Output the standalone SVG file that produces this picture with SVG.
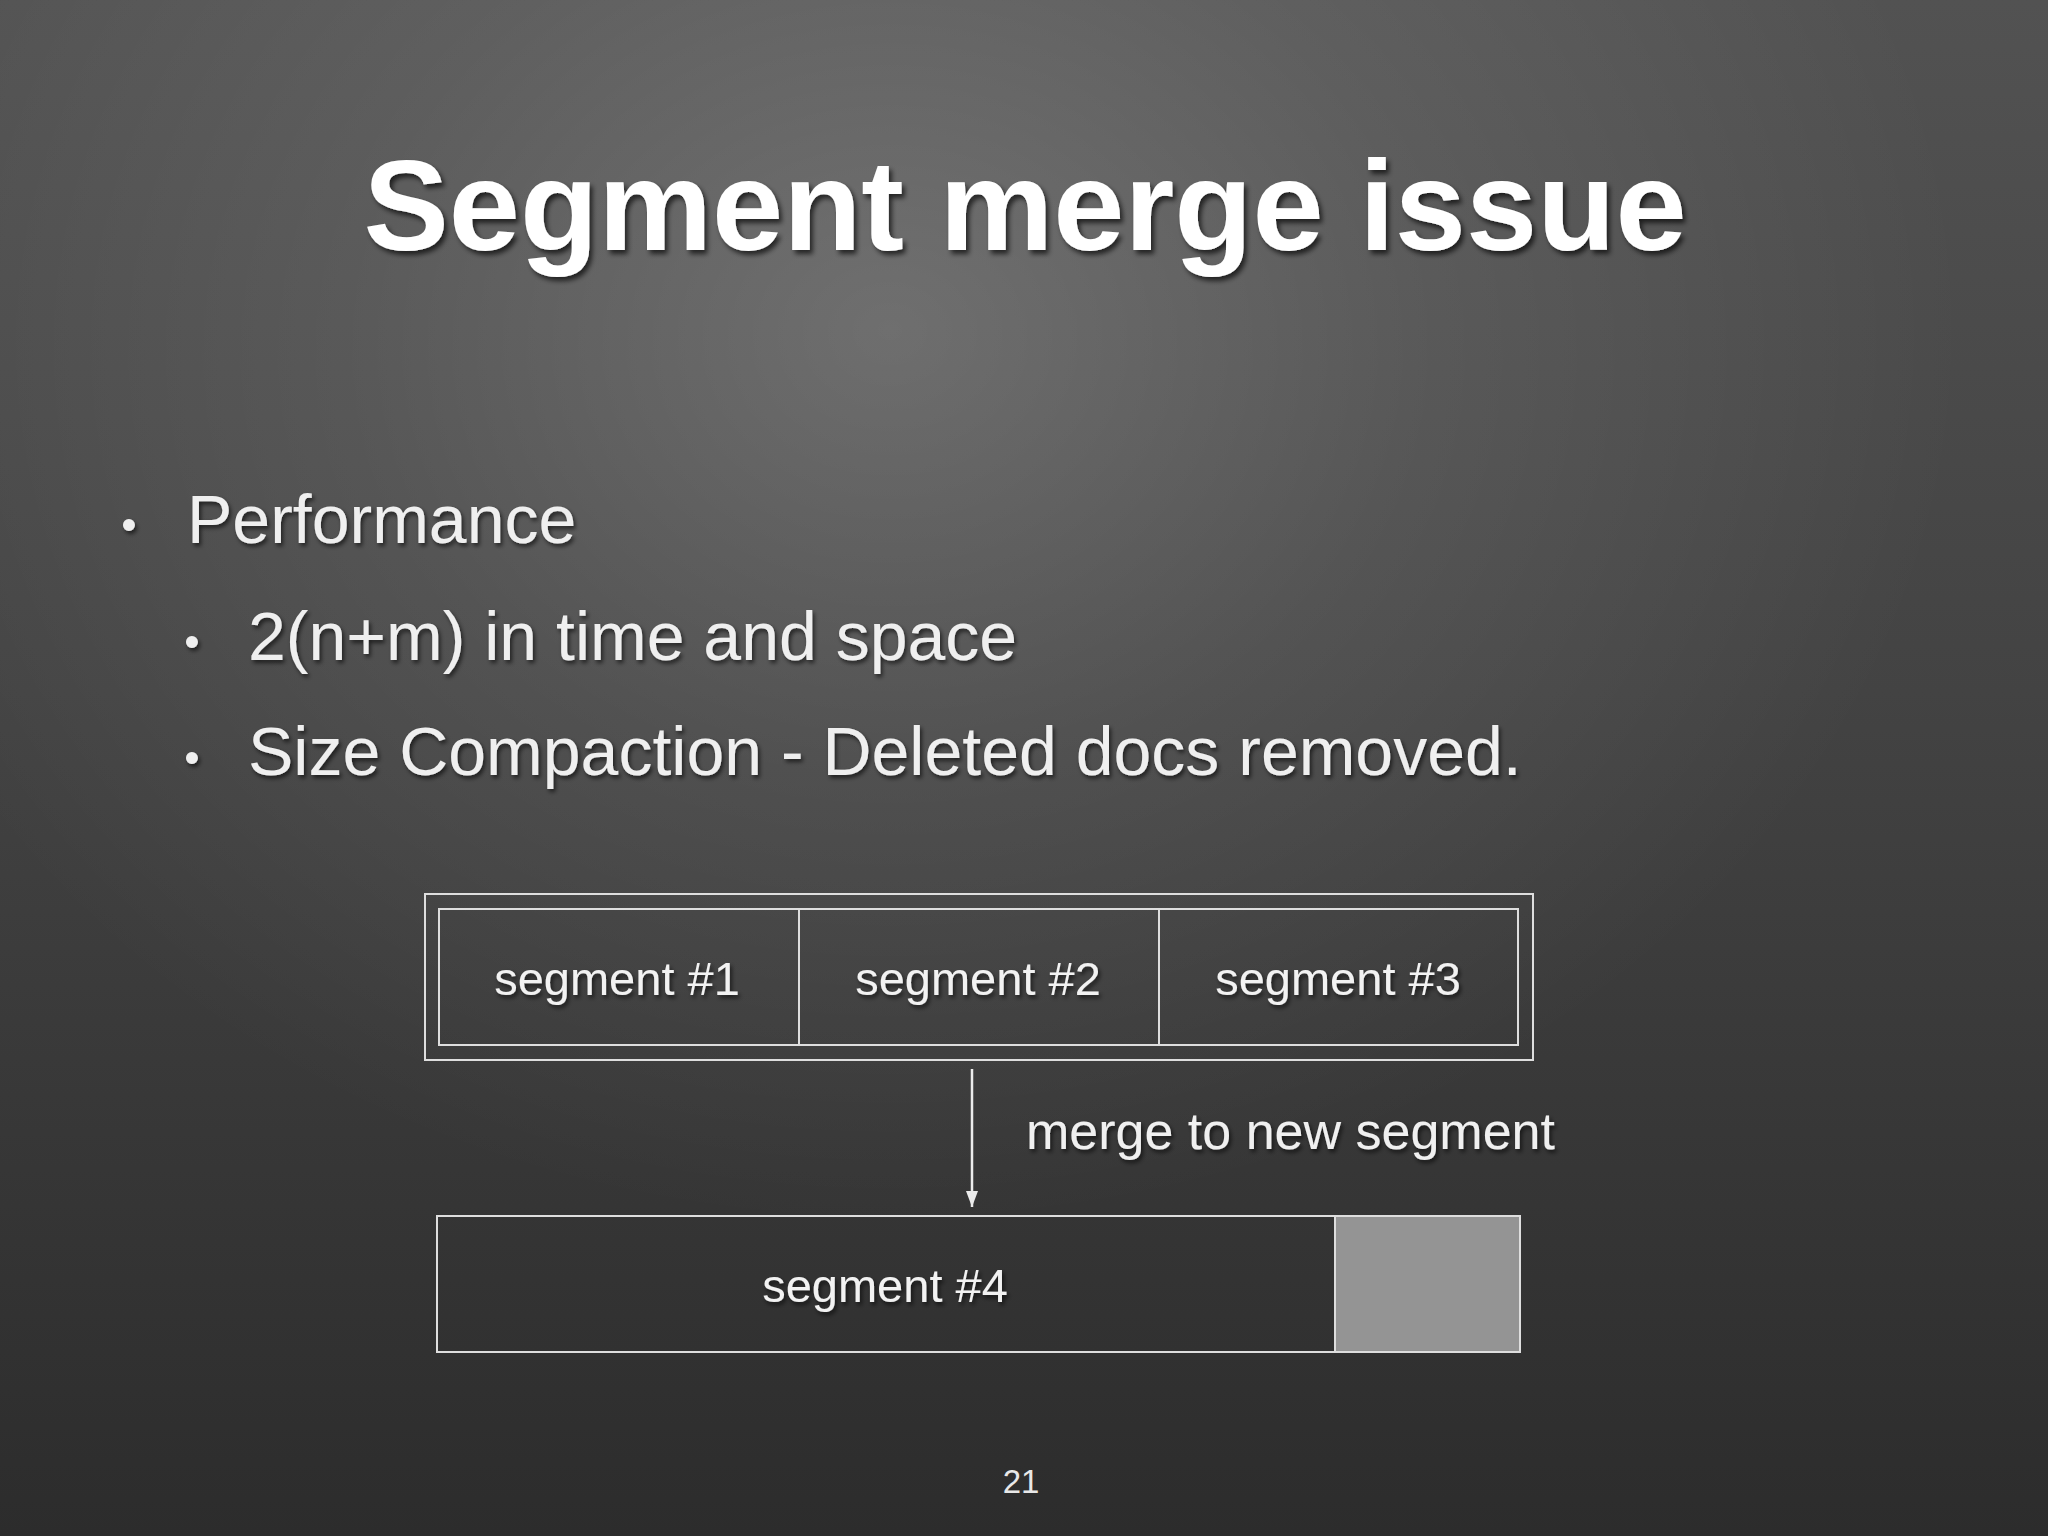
<svg xmlns="http://www.w3.org/2000/svg" width="2048" height="1536" viewBox="0 0 2048 1536">
<defs>
<linearGradient id="bgLin" x1="0" y1="0" x2="0" y2="1">
<stop offset="0" stop-color="#525252"/>
<stop offset="0.45" stop-color="#434343"/>
<stop offset="1" stop-color="#2c2c2c"/>
</linearGradient>
<radialGradient id="bgRad" gradientUnits="userSpaceOnUse" cx="890" cy="330" r="900" gradientTransform="translate(890 330) scale(1.2 1) translate(-890 -330)">
<stop offset="0" stop-color="#ffffff" stop-opacity="0.2"/>
<stop offset="0.5" stop-color="#ffffff" stop-opacity="0.08"/>
<stop offset="1" stop-color="#ffffff" stop-opacity="0"/>
</radialGradient>
<filter id="shadow" x="-5%" y="-20%" width="110%" height="150%">
<feDropShadow dx="3" dy="4" stdDeviation="2.5" flood-color="#000" flood-opacity="0.65"/>
</filter>
<filter id="shadowSm" x="-5%" y="-20%" width="110%" height="150%">
<feDropShadow dx="2" dy="3" stdDeviation="2" flood-color="#000" flood-opacity="0.6"/>
</filter>
<marker id="arrow" viewBox="0 0 16 12" refX="16" refY="6" markerWidth="16" markerHeight="12" markerUnits="userSpaceOnUse" orient="auto">
<path d="M0,0 L16,6 L0,12 z" fill="#ececec"/>
</marker>
<style>
.title{font-family:"Liberation Sans",Arial,Helvetica,sans-serif;font-weight:bold;font-size:128px;fill:#ffffff;}
.body{font-family:"Liberation Sans",Arial,Helvetica,sans-serif;font-size:68px;fill:#efefef;}
.bullet{font-family:"Liberation Sans",Arial,Helvetica,sans-serif;font-size:44px;fill:#efefef;}
.lbl{font-family:"Liberation Sans",Arial,Helvetica,sans-serif;font-size:47px;fill:#f2f2f2;text-anchor:middle;}
.box{fill:none;stroke:#dedede;stroke-width:2;}
.pg{font-family:"Liberation Sans",Arial,Helvetica,sans-serif;font-size:33px;fill:#e8e8e8;text-anchor:middle;}
</style>
</defs>
<rect width="2048" height="1536" fill="url(#bgLin)"/>
<rect width="2048" height="1536" fill="url(#bgRad)"/>

<g id="title" filter="url(#shadow)">
<text class="title" x="1025" y="250" text-anchor="middle">Segment merge issue</text>
</g>

<g id="bullets" filter="url(#shadowSm)">
<text class="bullet" x="129" y="540" text-anchor="middle">•</text>
<text class="body" x="187" y="543">Performance</text>
<text class="bullet" x="192" y="657" text-anchor="middle">•</text>
<text class="body" x="248" y="660">2(n+m) in time and space</text>
<text class="bullet" x="192" y="773" text-anchor="middle">•</text>
<text class="body" x="248" y="775">Size Compaction - Deleted docs removed.</text>
</g>

<g id="segments-container">
<rect class="box" x="425" y="894" width="1108" height="166"/>
<rect class="box" x="439" y="909" width="1079" height="136"/>
</g>
<g id="segment1">
<rect class="box" x="439" y="909" width="360" height="136"/>
<text class="lbl" x="617" y="995" filter="url(#shadowSm)">segment #1</text>
</g>
<g id="segment2">
<rect class="box" x="799" y="909" width="360" height="136"/>
<text class="lbl" x="978" y="995" filter="url(#shadowSm)">segment #2</text>
</g>
<g id="segment3">
<rect class="box" x="1159" y="909" width="359" height="136"/>
<text class="lbl" x="1338" y="995" filter="url(#shadowSm)">segment #3</text>
</g>

<g id="connectors">
<line x1="972" y1="1069" x2="972" y2="1207" stroke="#ececec" stroke-width="2.5" marker-end="url(#arrow)"/>
<text x="1026" y="1149" font-family="Liberation Sans, Arial, sans-serif" font-size="52" fill="#f0f0f0" filter="url(#shadowSm)">merge to new segment</text>
</g>

<g id="segment4">
<rect x="1335" y="1216" width="185" height="136" fill="#949494"/>
<rect class="box" x="437" y="1216" width="1083" height="136"/>
<line x1="1335" y1="1216" x2="1335" y2="1352" stroke="#dedede" stroke-width="2"/>
<text class="lbl" x="885" y="1302" filter="url(#shadowSm)">segment #4</text>
</g>

<text class="pg" x="1021" y="1493">21</text>
</svg>
